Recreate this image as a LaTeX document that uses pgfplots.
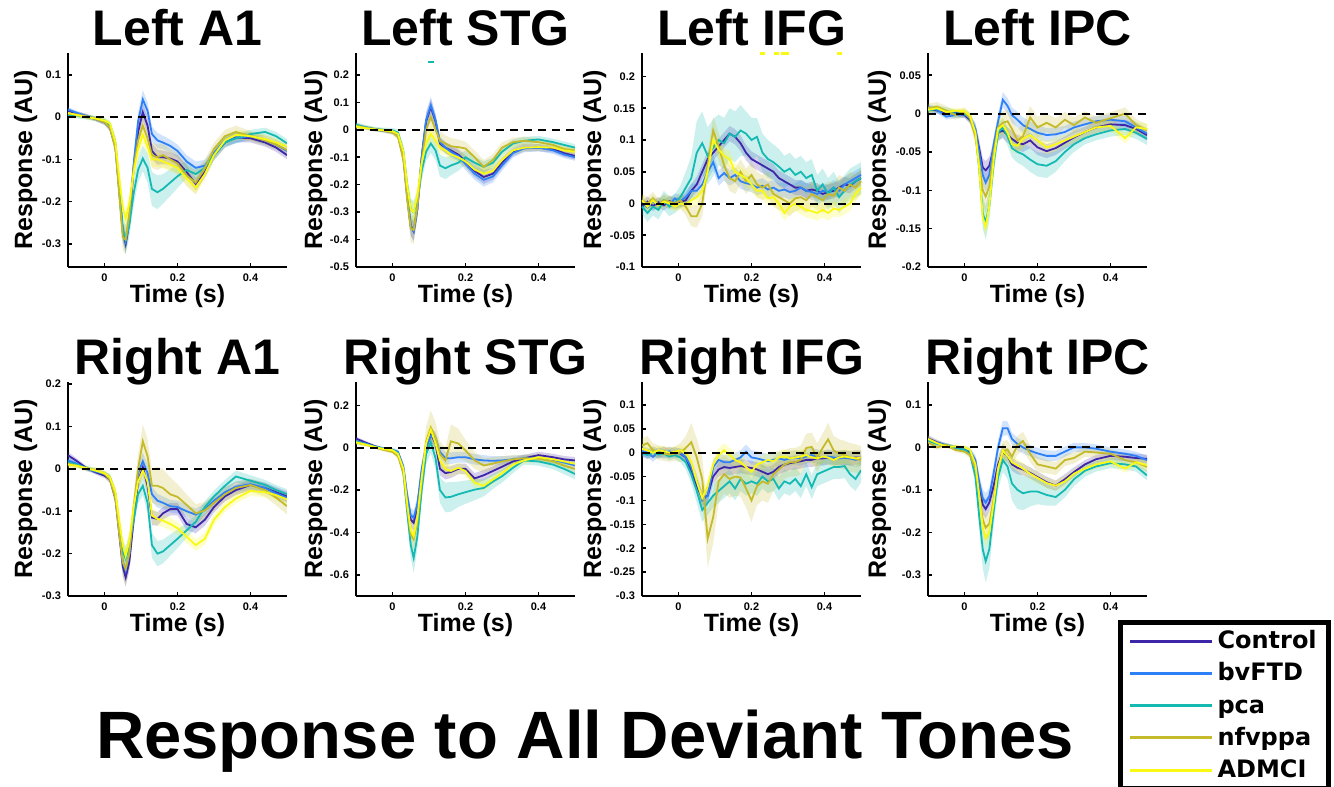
\documentclass[border=0pt]{standalone}
\usepackage{fontspec}
\setmainfont{Liberation Sans}
\newfontfamily\dejavu{DejaVu Sans}
\usepackage{pgfplots}
\usepackage{pgfplotstable}
\pgfplotsset{compat=1.18}

\definecolor{cctrl}{RGB}{62,38,168}
\definecolor{cbv}{RGB}{46,128,247}
\definecolor{cpca}{RGB}{20,185,178}
\definecolor{cnfv}{RGB}{196,186,42}
\definecolor{cad}{RGB}{249,249,20}

% columns: x, Control, bvFTD, pca, nfvppa, ADMCI, band (c,b,a), band pca, band nfvppa
\pgfplotstableread{
x c b p n a e pe ne
-0.1 0.015 0.018 0.005 0.008 0.01 .006 .008 .008
-0.075 0.008 0.01 0.004 0.006 0.005 .005 .007 .007
-0.05 0.002 0.003 0.0 0.002 0.0 .005 .006 .006
-0.025 -0.004 -0.004 -0.003 -0.004 -0.003 .005 .006 .006
0 -0.012 -0.012 -0.008 -0.012 -0.008 .006 .007 .007
0.015 -0.025 -0.025 -0.018 -0.025 -0.015 .007 .009 .009
0.03 -0.07 -0.07 -0.06 -0.075 -0.06 .012 .015 .015
0.04 -0.17 -0.17 -0.16 -0.18 -0.14 .018 .022 .022
0.05 -0.27 -0.27 -0.265 -0.285 -0.215 .022 .03 .03
0.058 -0.30 -0.295 -0.29 -0.29 -0.24 .022 .035 .035
0.068 -0.25 -0.245 -0.255 -0.23 -0.205 .02 .03 .03
0.08 -0.12 -0.11 -0.18 -0.12 -0.13 .02 .03 .025
0.092 -0.035 -0.01 -0.125 -0.055 -0.075 .02 .03 .025
0.105 0.012 0.042 -0.098 -0.02 -0.042 .022 .03 .025
0.118 -0.02 0.015 -0.12 -0.05 -0.07 .02 .035 .025
0.13 -0.08 -0.04 -0.17 -0.09 -0.1 .018 .04 .03
0.145 -0.095 -0.055 -0.178 -0.095 -0.1 .018 .04 .03
0.16 -0.095 -0.06 -0.17 -0.09 -0.105 .016 .035 .028
0.18 -0.098 -0.068 -0.155 -0.1 -0.112 .015 .032 .025
0.2 -0.105 -0.08 -0.14 -0.11 -0.12 .015 .028 .025
0.225 -0.13 -0.105 -0.125 -0.138 -0.145 .015 .02 .025
0.25 -0.158 -0.12 -0.135 -0.155 -0.167 .015 .015 .028
0.275 -0.13 -0.115 -0.12 -0.12 -0.135 .014 .013 .02
0.3 -0.09 -0.085 -0.09 -0.075 -0.09 .012 .012 .015
0.33 -0.06 -0.055 -0.06 -0.045 -0.055 .012 .012 .015
0.36 -0.048 -0.05 -0.05 -0.035 -0.042 .012 .012 .015
0.4 -0.05 -0.045 -0.04 -0.045 -0.045 .01 .01 .012
0.44 -0.06 -0.055 -0.035 -0.055 -0.052 .01 .01 .012
0.47 -0.072 -0.065 -0.045 -0.065 -0.06 .01 .01 .012
0.5 -0.09 -0.08 -0.062 -0.078 -0.07 .01 .01 .012
}\tLA

\pgfplotstableread{
x c b p n a e pe ne
-0.1 0.016 0.016 0.018 0.014 0.012 .008 .01 .01
-0.075 0.008 0.008 0.01 0.008 0.006 .006 .008 .008
-0.05 0.002 0.001 0.003 0.002 0.002 .006 .008 .008
-0.025 -0.003 -0.003 0.0 -0.003 -0.002 .006 .008 .008
0 -0.008 -0.008 -0.002 -0.01 -0.005 .007 .009 .009
0.015 -0.02 -0.02 -0.01 -0.025 -0.015 .01 .012 .012
0.03 -0.1 -0.1 -0.08 -0.11 -0.08 .02 .025 .025
0.04 -0.24 -0.24 -0.2 -0.25 -0.2 .03 .035 .04
0.05 -0.35 -0.35 -0.29 -0.36 -0.29 .035 .04 .05
0.058 -0.37 -0.37 -0.3 -0.365 -0.3 .035 .04 .05
0.068 -0.29 -0.29 -0.26 -0.28 -0.24 .03 .035 .045
0.08 -0.1 -0.1 -0.15 -0.12 -0.12 .03 .035 .045
0.092 0.03 0.035 -0.08 0.0 -0.05 .03 .035 .05
0.105 0.083 0.09 -0.05 0.046 -0.015 .03 .035 .05
0.118 0.03 0.035 -0.075 0.0 -0.04 .025 .035 .04
0.13 -0.05 -0.045 -0.13 -0.04 -0.065 .02 .04 .035
0.145 -0.065 -0.065 -0.14 -0.05 -0.075 .02 .04 .03
0.16 -0.075 -0.08 -0.13 -0.06 -0.09 .02 .035 .03
0.18 -0.09 -0.095 -0.12 -0.063 -0.1 .02 .03 .028
0.2 -0.115 -0.125 -0.1 -0.068 -0.115 .022 .025 .025
0.225 -0.15 -0.16 -0.12 -0.1 -0.145 .022 .022 .025
0.25 -0.172 -0.182 -0.135 -0.135 -0.16 .025 .02 .025
0.275 -0.16 -0.17 -0.12 -0.11 -0.15 .022 .018 .022
0.3 -0.12 -0.13 -0.08 -0.065 -0.11 .02 .016 .02
0.33 -0.08 -0.085 -0.05 -0.045 -0.075 .016 .015 .016
0.36 -0.065 -0.068 -0.04 -0.04 -0.065 .014 .014 .015
0.4 -0.065 -0.065 -0.035 -0.045 -0.063 .013 .013 .014
0.44 -0.07 -0.075 -0.045 -0.055 -0.065 .013 .013 .014
0.47 -0.085 -0.09 -0.055 -0.07 -0.075 .013 .013 .014
0.5 -0.095 -0.1 -0.065 -0.075 -0.08 .013 .013 .014
}\tLS

\pgfplotstableread{
x c b p n a e pe ne
-0.1 -0.005 0.002 -0.005 0.005 0.005 .008 .012 .01
-0.085 0.003 -0.006 -0.015 0.0 -0.005 .008 .014 .01
-0.07 -0.004 0.004 -0.005 0.008 0.005 .008 .014 .01
-0.055 0.002 -0.003 -0.01 -0.002 -0.003 .008 .015 .01
-0.04 -0.003 0.005 0.005 0.005 0.003 .008 .015 .01
-0.025 0.004 -0.002 -0.005 0.003 0.0 .008 .015 .01
-0.01 0.0 0.008 0.0 0.0 -0.005 .008 .015 .01
0.005 0.003 0.004 0.01 0.005 0.0 .009 .018 .012
0.02 0.005 0.01 0.025 -0.005 -0.002 .01 .025 .014
0.035 0.02 0.02 0.04 -0.02 0.005 .011 .035 .016
0.05 0.03 0.02 0.08 -0.02 0.01 .012 .05 .018
0.065 0.05 0.03 0.095 0.0 0.02 .012 .05 .02
0.08 0.07 0.05 0.075 0.06 0.05 .012 .045 .022
0.095 0.08 0.065 0.088 0.115 0.1 .012 .045 .022
0.11 0.09 0.04 0.1 0.09 0.085 .012 .04 .022
0.125 0.1 0.048 0.095 0.06 0.075 .012 .04 .02
0.14 0.11 0.04 0.11 0.04 0.07 .012 .04 .02
0.155 0.105 0.045 0.105 0.035 0.05 .012 .04 .02
0.17 0.095 0.035 0.115 0.05 0.045 .012 .04 .02
0.185 0.08 0.032 0.11 0.035 0.04 .012 .035 .02
0.2 0.07 0.03 0.1 0.045 0.03 .012 .035 .02
0.215 0.065 0.025 0.105 0.03 0.02 .012 .03 .02
0.23 0.06 0.028 0.08 0.025 0.02 .012 .03 .02
0.245 0.055 0.022 0.07 0.03 0.008 .012 .03 .02
0.26 0.05 0.025 0.065 0.015 0.01 .012 .028 .02
0.275 0.04 0.02 0.058 0.01 0.0 .012 .028 .02
0.29 0.035 0.022 0.05 0.005 -0.015 .012 .025 .02
0.305 0.03 0.018 0.055 0.0 -0.005 .012 .025 .02
0.32 0.025 0.02 0.045 0.008 0.0 .012 .025 .02
0.335 0.025 0.025 0.05 0.01 -0.005 .012 .025 .02
0.35 0.02 0.02 0.04 0.005 -0.01 .012 .025 .02
0.365 0.022 0.018 0.045 0.015 -0.012 .012 .025 .02
0.38 0.02 0.015 0.02 0.01 -0.015 .012 .025 .02
0.395 0.015 0.02 0.03 0.005 -0.01 .012 .025 .02
0.41 0.018 0.018 0.015 0.015 -0.015 .012 .025 .02
0.425 0.02 0.025 0.025 0.012 -0.008 .012 .025 .02
0.44 0.025 0.02 0.01 0.025 -0.01 .012 .025 .02
0.455 0.03 0.03 0.02 0.02 -0.005 .012 .025 .02
0.47 0.028 0.035 0.03 0.03 0.0 .012 .025 .02
0.485 0.035 0.04 0.035 0.025 0.015 .012 .025 .02
0.5 0.04 0.045 0.04 0.035 0.025 .012 .025 .02
}\tLI

\pgfplotstableread{
x c b p n a e pe ne
-0.1 0.006 0.008 0.004 0.007 0.005 .004 .005 .006
-0.075 0.004 0.005 0.006 0.009 0.007 .004 .005 .006
-0.05 0.0 -0.004 0.003 0.004 0.002 .004 .005 .006
-0.025 0.001 -0.002 0.0 -0.002 0.004 .004 .005 .006
0 -0.002 -0.001 0.0 0.002 0.003 .004 .005 .006
0.015 -0.008 -0.006 -0.005 -0.006 -0.003 .005 .006 .007
0.03 -0.022 -0.02 -0.025 -0.03 -0.025 .008 .01 .01
0.04 -0.045 -0.05 -0.07 -0.065 -0.07 .012 .015 .015
0.05 -0.07 -0.08 -0.13 -0.1 -0.135 .012 .02 .02
0.058 -0.074 -0.09 -0.142 -0.108 -0.148 .012 .022 .022
0.068 -0.068 -0.08 -0.12 -0.095 -0.12 .012 .02 .02
0.08 -0.045 -0.04 -0.065 -0.05 -0.06 .01 .015 .015
0.092 -0.025 -0.01 -0.025 -0.018 -0.02 .01 .012 .015
0.105 -0.022 0.018 -0.018 -0.012 -0.015 .01 .012 .015
0.118 -0.028 0.01 -0.03 -0.01 -0.025 .01 .012 .015
0.13 -0.033 -0.002 -0.045 -0.02 -0.04 .01 .012 .015
0.145 -0.038 -0.008 -0.05 -0.035 -0.042 .01 .014 .015
0.16 -0.04 -0.015 -0.053 -0.03 -0.033 .01 .015 .015
0.18 -0.035 -0.02 -0.06 -0.005 -0.028 .01 .016 .015
0.2 -0.044 -0.025 -0.066 -0.018 -0.035 .01 .016 .014
0.225 -0.049 -0.028 -0.068 -0.012 -0.044 .009 .016 .012
0.25 -0.045 -0.027 -0.062 -0.018 -0.04 .009 .014 .012
0.275 -0.038 -0.024 -0.05 -0.008 -0.035 .008 .012 .01
0.3 -0.031 -0.018 -0.04 -0.015 -0.03 .008 .01 .01
0.33 -0.024 -0.014 -0.032 -0.005 -0.024 .007 .008 .008
0.36 -0.018 -0.01 -0.027 -0.012 -0.018 .007 .008 .008
0.4 -0.014 -0.008 -0.022 -0.006 -0.016 .007 .008 .008
0.44 -0.015 -0.01 -0.02 0.0 -0.032 .007 .008 .008
0.47 -0.02 -0.018 -0.025 -0.015 -0.018 .007 .008 .008
0.5 -0.028 -0.026 -0.033 -0.022 -0.02 .007 .008 .008
}\tLP

\pgfplotstableread{
x c b p n a e pe ne
-0.1 0.032 0.02 0.015 0.012 0.01 .008 .008 .008
-0.075 0.018 0.012 0.01 0.008 0.007 .006 .006 .006
-0.05 0.002 0.0 0.002 0.0 0.002 .005 .005 .006
-0.025 -0.008 -0.006 -0.004 -0.002 -0.004 .005 .005 .006
0 -0.016 -0.012 -0.012 -0.012 -0.01 .006 .006 .007
0.015 -0.025 -0.022 -0.02 -0.025 -0.02 .008 .008 .01
0.03 -0.07 -0.06 -0.06 -0.07 -0.055 .012 .014 .016
0.04 -0.15 -0.14 -0.13 -0.15 -0.12 .018 .02 .025
0.05 -0.23 -0.22 -0.195 -0.22 -0.18 .022 .025 .035
0.058 -0.256 -0.24 -0.212 -0.236 -0.206 .022 .028 .04
0.068 -0.22 -0.2 -0.18 -0.2 -0.17 .02 .025 .035
0.08 -0.12 -0.1 -0.12 -0.09 -0.09 .02 .022 .03
0.092 -0.03 -0.01 -0.06 0.0 -0.03 .02 .022 .035
0.105 0.004 0.018 -0.04 0.065 -0.004 .02 .022 .04
0.118 -0.04 -0.01 -0.08 0.03 -0.03 .02 .025 .04
0.13 -0.115 -0.06 -0.18 -0.04 -0.11 .018 .03 .04
0.145 -0.118 -0.075 -0.2 -0.04 -0.118 .016 .03 .045
0.16 -0.105 -0.08 -0.195 -0.045 -0.122 .015 .028 .045
0.18 -0.095 -0.088 -0.18 -0.06 -0.13 .015 .025 .04
0.2 -0.095 -0.09 -0.165 -0.066 -0.14 .015 .022 .03
0.225 -0.13 -0.1 -0.145 -0.085 -0.16 .015 .018 .025
0.25 -0.138 -0.108 -0.125 -0.105 -0.18 .014 .015 .022
0.275 -0.12 -0.095 -0.09 -0.098 -0.165 .014 .014 .02
0.3 -0.09 -0.075 -0.065 -0.08 -0.12 .013 .014 .018
0.33 -0.065 -0.055 -0.04 -0.06 -0.09 .012 .014 .016
0.36 -0.05 -0.042 -0.018 -0.045 -0.07 .012 .014 .015
0.4 -0.038 -0.036 -0.028 -0.038 -0.052 .012 .013 .015
0.44 -0.045 -0.045 -0.038 -0.05 -0.055 .012 .012 .016
0.47 -0.055 -0.058 -0.05 -0.068 -0.062 .012 .012 .018
0.5 -0.065 -0.068 -0.06 -0.088 -0.072 .012 .012 .02
}\tRA

\pgfplotstableread{
x c b p n a e pe ne
-0.1 0.043 0.03 0.03 0.025 0.025 .01 .01 .01
-0.075 0.025 0.02 0.018 0.015 0.015 .008 .008 .008
-0.05 0.008 0.005 0.006 0.002 0.004 .007 .007 .007
-0.025 -0.005 -0.004 -0.004 -0.01 -0.006 .007 .007 .008
0 -0.013 -0.01 -0.01 -0.02 -0.012 .008 .008 .009
0.015 -0.025 -0.02 -0.025 -0.04 -0.03 .012 .012 .014
0.03 -0.1 -0.09 -0.12 -0.12 -0.1 .02 .025 .025
0.04 -0.24 -0.22 -0.3 -0.28 -0.26 .03 .04 .04
0.05 -0.34 -0.32 -0.46 -0.41 -0.39 .035 .06 .05
0.058 -0.354 -0.33 -0.52 -0.433 -0.417 .035 .07 .05
0.068 -0.28 -0.27 -0.42 -0.35 -0.33 .035 .06 .05
0.08 -0.12 -0.1 -0.2 -0.16 -0.14 .035 .05 .06
0.092 0.0 0.0 -0.03 0.03 0.02 .035 .05 .07
0.105 0.065 0.055 0.025 0.095 0.085 .035 .05 .08
0.118 0.02 0.045 -0.05 0.05 0.02 .03 .05 .07
0.13 -0.1 -0.02 -0.2 -0.03 -0.06 .03 .06 .06
0.145 -0.12 -0.05 -0.235 -0.06 -0.1 .03 .07 .06
0.16 -0.115 -0.05 -0.232 0.03 -0.11 .028 .07 .08
0.18 -0.1 -0.045 -0.22 0.02 -0.095 .025 .06 .07
0.2 -0.1 -0.045 -0.21 -0.013 -0.11 .025 .055 .05
0.225 -0.145 -0.055 -0.198 -0.06 -0.165 .025 .05 .04
0.25 -0.13 -0.06 -0.19 -0.084 -0.18 .025 .04 .035
0.275 -0.11 -0.062 -0.16 -0.075 -0.15 .022 .035 .03
0.3 -0.09 -0.06 -0.135 -0.065 -0.12 .02 .03 .025
0.33 -0.065 -0.055 -0.095 -0.055 -0.08 .018 .025 .02
0.36 -0.05 -0.05 -0.06 -0.05 -0.06 .016 .02 .018
0.4 -0.035 -0.05 -0.065 -0.052 -0.045 .016 .02 .018
0.44 -0.045 -0.058 -0.08 -0.065 -0.055 .016 .022 .018
0.47 -0.055 -0.07 -0.1 -0.085 -0.065 .016 .025 .018
0.5 -0.06 -0.084 -0.124 -0.1 -0.076 .016 .025 .018
}\tRS

\pgfplotstableread{
x c b p n a e pe ne
-0.1 0.002 0.004 0.0 0.015 0.008 .01 .008 .015
-0.085 -0.003 0.0 -0.005 0.02 0.005 .01 .008 .015
-0.07 0.003 -0.009 0.002 0.005 0.0 .01 .008 .015
-0.055 -0.002 0.002 -0.004 0.0 0.005 .01 .008 .015
-0.04 0.003 -0.003 -0.002 -0.002 0.003 .01 .008 .015
-0.025 -0.002 0.003 -0.008 -0.004 0.0 .01 .008 .015
-0.01 0.002 -0.002 -0.005 -0.002 0.002 .01 .008 .015
0.005 -0.002 0.0 -0.01 0.0 0.005 .01 .01 .02
0.02 -0.01 -0.01 -0.02 0.01 0.0 .012 .015 .025
0.035 -0.04 -0.03 -0.045 0.022 -0.02 .014 .02 .04
0.05 -0.07 -0.06 -0.08 -0.01 -0.06 .015 .025 .04
0.065 -0.095 -0.1 -0.12 -0.055 -0.095 .015 .025 .045
0.08 -0.09 -0.09 -0.105 -0.18 -0.07 .015 .025 .06
0.095 -0.05 -0.03 -0.09 -0.135 -0.025 .015 .025 .055
0.11 -0.035 -0.015 -0.08 -0.06 -0.005 .015 .025 .045
0.125 -0.03 -0.02 -0.07 -0.045 0.005 .015 .025 .04
0.14 -0.032 -0.02 -0.06 -0.055 -0.005 .015 .025 .04
0.155 -0.03 -0.015 -0.075 -0.05 -0.015 .015 .025 .04
0.17 -0.028 -0.01 -0.055 -0.052 -0.02 .015 .025 .04
0.185 -0.03 0.002 -0.065 -0.075 -0.03 .015 .025 .04
0.2 -0.032 -0.01 -0.06 -0.1 -0.04 .015 .025 .045
0.215 -0.035 -0.012 -0.065 -0.07 -0.025 .015 .025 .04
0.23 -0.04 -0.015 -0.05 -0.06 -0.02 .015 .025 .04
0.245 -0.045 -0.018 -0.06 -0.065 -0.015 .015 .025 .04
0.26 -0.04 -0.015 -0.055 -0.045 -0.018 .015 .025 .035
0.275 -0.03 -0.012 -0.075 -0.035 -0.01 .015 .025 .035
0.29 -0.025 -0.015 -0.06 -0.025 -0.008 .015 .025 .03
0.305 -0.022 -0.012 -0.065 -0.02 -0.012 .015 .025 .03
0.32 -0.02 -0.01 -0.055 -0.02 -0.01 .015 .025 .03
0.335 -0.018 -0.012 -0.07 -0.015 -0.008 .015 .025 .03
0.35 -0.015 -0.008 -0.045 0.01 -0.005 .015 .025 .03
0.365 -0.015 -0.005 -0.072 0.012 -0.01 .015 .025 .03
0.38 -0.012 -0.008 -0.045 -0.01 -0.012 .015 .025 .03
0.395 -0.012 -0.01 -0.04 0.01 -0.008 .015 .025 .03
0.41 -0.01 -0.008 -0.035 0.028 -0.01 .015 .025 .035
0.425 -0.012 -0.01 -0.03 0.005 -0.015 .015 .025 .03
0.44 -0.01 -0.012 -0.03 -0.002 -0.01 .015 .025 .03
0.455 -0.01 -0.01 -0.028 -0.005 -0.008 .015 .025 .03
0.47 -0.012 -0.012 -0.045 -0.01 -0.01 .015 .025 .03
0.485 -0.01 -0.015 -0.055 -0.012 -0.012 .015 .025 .03
0.5 -0.01 -0.012 -0.037 -0.016 -0.01 .015 .025 .03
}\tRI

\pgfplotstableread{
x c b p n a e pe ne
-0.1 0.021 0.018 0.016 0.012 0.02 .008 .008 .008
-0.075 0.012 0.01 0.008 0.0 0.01 .006 .006 .006
-0.05 0.004 0.005 0.005 0.006 0.002 .005 .005 .005
-0.025 0.0 -0.002 0.0 -0.006 0.002 .005 .005 .005
0 -0.004 -0.002 -0.006 -0.01 0.0 .005 .005 .006
0.015 -0.012 -0.008 -0.015 -0.018 -0.006 .007 .008 .008
0.03 -0.04 -0.03 -0.07 -0.05 -0.04 .012 .015 .015
0.04 -0.09 -0.08 -0.16 -0.11 -0.11 .018 .03 .025
0.05 -0.135 -0.12 -0.24 -0.17 -0.19 .022 .045 .03
0.058 -0.145 -0.13 -0.268 -0.189 -0.213 .022 .05 .03
0.068 -0.13 -0.115 -0.24 -0.18 -0.2 .02 .045 .03
0.08 -0.09 -0.06 -0.15 -0.12 -0.13 .018 .035 .025
0.092 -0.04 0.0 -0.07 -0.05 -0.05 .018 .03 .025
0.105 -0.01 0.045 -0.03 -0.01 -0.008 .018 .028 .025
0.118 -0.02 0.045 -0.045 -0.005 -0.02 .016 .03 .022
0.13 -0.04 0.02 -0.085 -0.022 -0.035 .015 .04 .022
0.145 -0.048 0.008 -0.1 0.005 -0.042 .015 .045 .022
0.16 -0.052 0.0 -0.108 0.015 -0.05 .014 .04 .022
0.18 -0.06 -0.008 -0.104 -0.015 -0.062 .013 .035 .02
0.2 -0.07 -0.014 -0.104 -0.04 -0.072 .013 .03 .018
0.225 -0.082 -0.02 -0.112 -0.045 -0.084 .013 .025 .016
0.25 -0.09 -0.02 -0.117 -0.05 -0.09 .012 .02 .015
0.275 -0.075 -0.01 -0.1 -0.03 -0.08 .012 .018 .014
0.3 -0.058 0.0 -0.075 -0.025 -0.062 .011 .016 .013
0.33 -0.04 0.0 -0.055 -0.01 -0.05 .01 .014 .012
0.36 -0.028 -0.003 -0.045 -0.012 -0.04 .01 .012 .012
0.4 -0.02 -0.01 -0.037 -0.015 -0.033 .01 .012 .012
0.44 -0.022 -0.015 -0.04 -0.03 -0.05 .01 .012 .012
0.47 -0.025 -0.02 -0.045 -0.035 -0.035 .01 .012 .012
0.5 -0.027 -0.03 -0.066 -0.046 -0.042 .01 .012 .012
}\tRP

% shaded band: lower edge, then band (stacked), then reset the stack to zero
\newcommand{\band}[4]{%
  \addplot[stack plots=y, draw=none, forget plot] table[x=x, y expr=\thisrow{#2}-\thisrow{#3}]{#1};
  \addplot[stack plots=y, draw=none, fill=#4, fill opacity=0.22, forget plot] table[x=x, y expr=2*\thisrow{#3}]{#1} \closedcycle;
  \addplot[stack plots=y, draw=none, forget plot] table[x=x, y expr=-\thisrow{#2}-\thisrow{#3}]{#1};
}
\newcommand{\allcurves}[1]{%
  \band{#1}{c}{e}{cctrl}
  \band{#1}{b}{e}{cbv}
  \band{#1}{p}{pe}{cpca}
  \band{#1}{n}{ne}{cnfv}
  \band{#1}{a}{e}{cad}
  \addplot[cctrl, line width=0.9pt] table[x=x, y=c]{#1};
  \addplot[cbv, line width=0.9pt] table[x=x, y=b]{#1};
  \addplot[cpca, line width=0.9pt] table[x=x, y=p]{#1};
  \addplot[cnfv, line width=0.9pt] table[x=x, y=n]{#1};
  \addplot[cad, line width=0.9pt] table[x=x, y=a]{#1};
  \addplot[black, line width=1pt, dash pattern=on 4pt off 3pt, forget plot] coordinates {(-0.1,0) (0.5,0)};
}

\pgfplotsset{every axis title shift=0pt}
\pgfplotsset{panel/.style={
  scale only axis, width=109.5pt, height=107pt,
  axis x line=bottom, axis y line=left,
  axis line style={line width=1pt, -},
  xmin=-0.1, xmax=0.5, xtick={0,0.2,0.4},
  tick align=inside, major tick length=2pt,
  tick style={line width=0.8pt, black},
  ticklabel style={font=\bfseries\fontsize{5.5}{6.5}\selectfont, /pgf/number format/assume math mode=true},
  yticklabel style={/pgf/number format/fixed, /pgf/number format/precision=2},
  xticklabel style={/pgf/number format/fixed},
  scaled y ticks=false, scaled x ticks=false,
  title style={font=\bfseries\fontsize{25}{30}\selectfont, at={(axis description cs:0.5,1.033)}, anchor=base},
  xlabel={Time (s)},
  xlabel style={font=\bfseries\fontsize{12.5}{15}\selectfont, at={(axis description cs:0.5,-0.164)}, anchor=base},
  ylabel={Response (AU)},
  ylabel style={font=\bfseries\fontsize{12.5}{15}\selectfont, anchor=base},
}}

\begin{document}
\begin{tikzpicture}
\useasboundingbox (0,0) rectangle (667pt,-393.5pt);

% ---------- Row 1 ----------
\begin{axis}[panel, at={(34pt,-26.5pt)}, anchor=north west,
  title={Left A1}, ymin=-0.355, ymax=0.152, ytick={-0.3,-0.2,-0.1,0,0.1},
  ylabel style={at={(axis description cs:-0.164,0.5)}}]
\allcurves{\tLA}
\end{axis}

\begin{axis}[panel, at={(178pt,-26.5pt)}, anchor=north west,
  title={Left STG}, ymin=-0.5, ymax=0.28, ytick={-0.5,-0.4,-0.3,-0.2,-0.1,0,0.1,0.2},
  ylabel style={at={(axis description cs:-0.155,0.5)}}]
\allcurves{\tLS}
\addplot[cpca, line width=1.2pt, forget plot] coordinates {(0.096,0.248) (0.115,0.248)};
\end{axis}

\begin{axis}[panel, at={(321pt,-26.5pt)}, anchor=north west, clip=false,
  title={Left IFG}, ymin=-0.1, ymax=0.237, ytick={-0.1,-0.05,0,0.05,0.1,0.15,0.2},
  ylabel style={at={(axis description cs:-0.187,0.5)}}]
\allcurves{\tLI}
\addplot[cad, line width=1.2pt, forget plot] coordinates {(0.222,0.236) (0.236,0.236)};
\addplot[cad, line width=1.2pt, forget plot] coordinates {(0.263,0.236) (0.274,0.236)};
\addplot[cad, line width=1.2pt, forget plot] coordinates {(0.282,0.236) (0.304,0.236)};
\addplot[cad, line width=1.2pt, forget plot] coordinates {(0.433,0.236) (0.447,0.236)};
\end{axis}

\begin{axis}[panel, at={(464pt,-26.5pt)}, anchor=north west,
  title={Left IPC}, ymin=-0.2, ymax=0.079, ytick={-0.2,-0.15,-0.1,-0.05,0,0.05},
  ylabel style={at={(axis description cs:-0.192,0.5)}}]
\allcurves{\tLP}
\end{axis}

% ---------- Row 2 ----------
\begin{axis}[panel, at={(34pt,-191pt)}, anchor=north west,
  title={Right A1}, ymin=-0.3, ymax=0.205, ytick={-0.3,-0.2,-0.1,0,0.1,0.2},
  ylabel style={at={(axis description cs:-0.164,0.5)}}]
\allcurves{\tRA}
\end{axis}

\begin{axis}[panel, at={(178pt,-191pt)}, anchor=north west,
  title={Right STG}, ymin=-0.7, ymax=0.31, ytick={-0.6,-0.4,-0.2,0,0.2},
  ylabel style={at={(axis description cs:-0.155,0.5)}}]
\allcurves{\tRS}
\end{axis}

\begin{axis}[panel, at={(321pt,-191pt)}, anchor=north west,
  title={Right IFG}, ymin=-0.3, ymax=0.148, ytick={-0.3,-0.25,-0.2,-0.15,-0.1,-0.05,0,0.05,0.1},
  ylabel style={at={(axis description cs:-0.187,0.5)}}]
\allcurves{\tRI}
\end{axis}

\begin{axis}[panel, at={(464pt,-191pt)}, anchor=north west,
  title={Right IPC}, ymin=-0.35, ymax=0.154, ytick={-0.3,-0.2,-0.1,0,0.1},
  ylabel style={at={(axis description cs:-0.192,0.5)}},
  legend image code/.code={\draw[#1, line width=1.5pt] (0pt,0pt) -- (41pt,0pt);},
  legend style={at={(axis description cs:0.8676,-0.112)}, anchor=north west,
    draw=black, line width=2.5pt, fill=white,
    font=\dejavu\bfseries\fontsize{12}{14}\selectfont,
    inner xsep=4pt, inner ysep=2pt, row sep=1.5pt,
    nodes={inner sep=2pt}},
  legend cell align=left]
\allcurves{\tRP}
\legend{\vphantom{Apl}Control,\vphantom{Apl}bvFTD,\vphantom{Apl}pca,\vphantom{Apl}nfvppa,\vphantom{Apl}ADMCI}
\end{axis}

\node[font=\bfseries\fontsize{33.5}{40}\selectfont, anchor=base] at (292.5pt,-379pt) {Response to All Deviant Tones};
\end{tikzpicture}
\end{document}
